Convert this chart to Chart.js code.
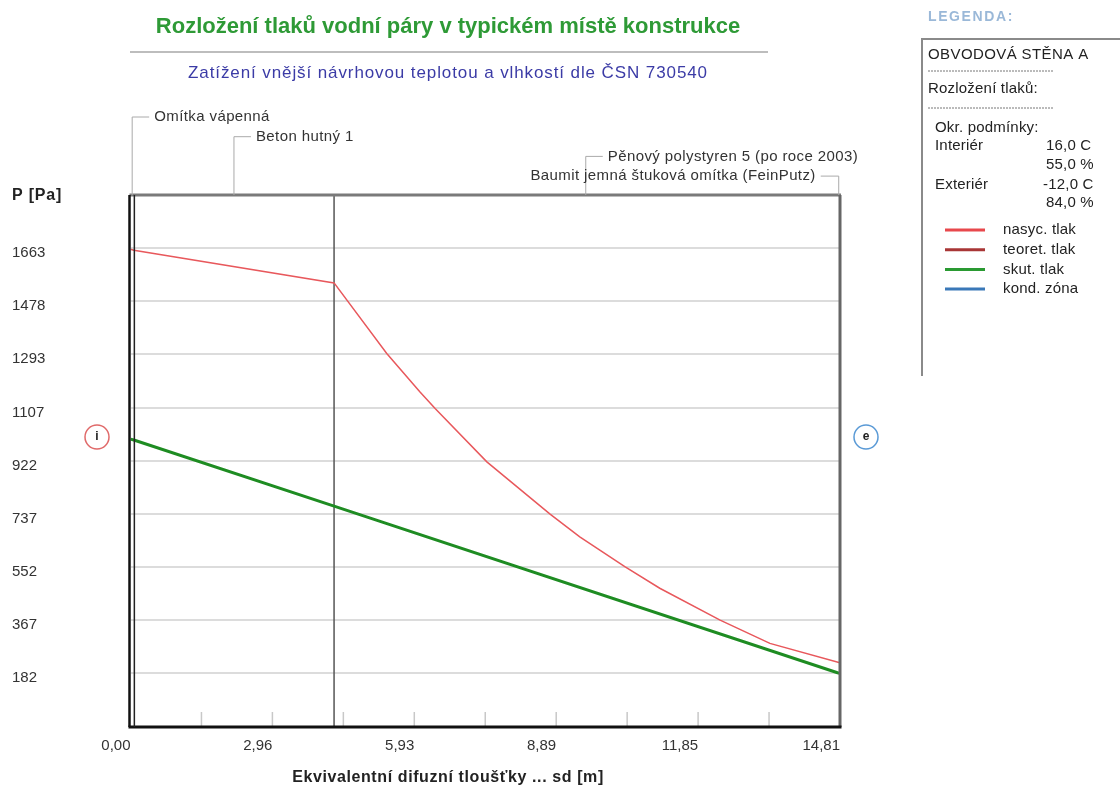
<!DOCTYPE html>
<html>
<head>
<meta charset="utf-8">
<script src="https://cdn.jsdelivr.net/npm/chart.js@4.4.1/dist/chart.umd.min.js"></script>
<style>
    html, body { margin: 0; padding: 0; background: #fff; }
    #wrap { width: 1120px; height: 787px; }
</style>
</head>
<body>
<div id="wrap"><canvas id="tlakChart" width="1120" height="787"></canvas></div>
<script>
// Rozlozeni tlaku vodni pary
const sdNasyc = [0, 0.07, 4.25, 5.35, 6.04, 6.36, 7.44, 8.76, 9.38, 10.32, 11.05, 12.31, 13.35, 14.81];
const pNasyc = [1658, 1655, 1541, 1295, 1162, 1104, 918, 736, 657, 553, 478, 367, 286, 219];
const sdSkut = [0, 0.07, 4.25, 14.76, 14.81];
const pSkut = [997, 994, 764, 184, 182];

const yTicks = [182, 367, 552, 737, 922, 1107, 1293, 1478, 1663];
const xTicks = [0, 2.9626, 5.9252, 8.8878, 11.8504, 14.813];
const xTickLabels = ['0,00', '2,96', '5,93', '8,89', '11,85', '14,81'];
const xMinorTicks = [1.4813, 2.9626, 4.4439, 5.9252, 7.4065, 8.8878, 10.3691, 11.8504, 13.3317];

const layerNames = ['Omítka vápenná', 'Beton hutný 1', 'Pěnový polystyren 5 (po roce 2003)', 'Baumit jemná štuková omítka (FeinPutz)'];
const layerEdges = [0, 0.07, 4.25, 14.76, 14.813];

const legendLabels = ['nasyc. tlak', 'teoret. tlak', 'skut. tlak', 'kond. zóna'];
const legendColors = ['#e8484c', '#a83636', '#2a9a32', '#3a78b8'];

const FONT = '"Liberation Sans", Arial, sans-serif';

function text(ctx, str, x, y, font, color, align, spacing) {
    ctx.save();
    ctx.font = font;
    ctx.fillStyle = color;
    ctx.textAlign = align || 'left';
    ctx.textBaseline = 'middle';
    ctx.letterSpacing = spacing || '0px';
    ctx.fillText(str, x, y);
    ctx.restore();
}

function line(ctx, x1, y1, x2, y2, color, width) {
    ctx.beginPath();
    ctx.strokeStyle = color;
    ctx.lineWidth = width;
    ctx.moveTo(x1, y1);
    ctx.lineTo(x2, y2);
    ctx.stroke();
}

function drawMark(ctx, x, y, color, letter) {
    ctx.beginPath();
    ctx.strokeStyle = color;
    ctx.lineWidth = 1.5;
    ctx.arc(x, y, 12, 0, Math.PI * 2);
    ctx.stroke();
    text(ctx, letter, x, y, 'bold 12px ' + FONT, '#222', 'center');
}

function drawLegendBox(ctx) {
    text(ctx, 'LEGENDA:', 928, 17, 'bold 14px ' + FONT, '#9ab8d8', 'left', '1.6px');

    // box, open to the right
    line(ctx, 922, 39, 1120, 39, '#8a8a8a', 2);
    line(ctx, 922, 38, 922, 376, '#8a8a8a', 2);

    const f = '15px ' + FONT;
    const sp = '0.2px';
    text(ctx, 'OBVODOVÁ STĚNA A', 928, 55, '15px ' + FONT, '#222', 'left', '0.4px');
    ctx.save();
    ctx.setLineDash([2, 1]);
    line(ctx, 928, 71, 1053, 71, '#777', 1);
    line(ctx, 928, 108, 1053, 108, '#777', 1);
    ctx.restore();
    text(ctx, 'Rozložení tlaků:', 928, 89, f, '#222', 'left', sp);
    text(ctx, 'Okr. podmínky:', 935, 128, f, '#222', 'left', sp);
    text(ctx, 'Interiér', 935, 146, f, '#222', 'left', sp);
    text(ctx, '16,0 C', 1046, 146, f, '#222', 'left', sp);
    text(ctx, '55,0 %', 1046, 165, f, '#222', 'left', sp);
    text(ctx, 'Exteriér', 935, 185, f, '#222', 'left', sp);
    text(ctx, '-12,0 C', 1043, 185, f, '#222', 'left', sp);
    text(ctx, '84,0 %', 1046, 203, f, '#222', 'left', sp);

    legendLabels.forEach((lbl, i) => {
        const y = 230 + i * 19.7;
        line(ctx, 945, y, 985, y, legendColors[i], 3);
        text(ctx, lbl, 1003, y, f, '#222', 'left', sp);
    });
}

const overlayPlugin = {
    id: 'overlay',
    beforeDatasetsDraw(chart) {
        const ctx = chart.ctx;
        const a = chart.chartArea;
        const x = chart.scales.x;
        // inner layer boundary (beton / polystyren)
        const pb = x.getPixelForValue(layerEdges[2]);
        line(ctx, pb, a.top, pb, a.bottom, '#555', 1.5);
        // minor ticks along the bottom
        xMinorTicks.forEach(v => {
            const px = x.getPixelForValue(v);
            line(ctx, px, a.bottom - 15, px, a.bottom, '#c8c8c8', 1.5);
        });
    },
    afterDraw(chart) {
        const ctx = chart.ctx;
        const a = chart.chartArea;
        const x = chart.scales.x;

        // frame
        line(ctx, a.left - 1, a.top, a.right + 1, a.top, '#7a7a7a', 3);
        line(ctx, a.right, a.top, a.right, a.bottom, '#666', 3);
        line(ctx, a.left - 2, a.bottom, a.right + 1.5, a.bottom, '#111', 3);
        line(ctx, a.left - 1, a.top, a.left - 1, a.bottom, '#111', 2.5);
        const p1 = x.getPixelForValue(layerEdges[1]);
        line(ctx, p1 + 0.5, a.top, p1 + 0.5, a.bottom, '#222', 1.5);

        // titles
        text(ctx, 'Rozložení tlaků vodní páry v typickém místě konstrukce', 448, 27, 'bold 22px ' + FONT, '#2e9a36', 'center');
        line(ctx, 130, 52, 768, 52, '#bdbdbd', 2);
        text(ctx, 'Zatížení vnější návrhovou teplotou a vlhkostí dle ČSN 730540', 448, 73, '17px ' + FONT, '#3b3ba6', 'center', '0.9px');

        // layer labels with brackets
        layerNames.forEach((name, i) => {
            const cx = x.getPixelForValue((layerEdges[i] + layerEdges[i + 1]) / 2);
            const ly = 117 + i * 19.7;
            const last = i === layerNames.length - 1;
            line(ctx, cx, a.top, cx, ly, '#aaa', 1);
            if (last) {
                line(ctx, cx, ly, cx - 18, ly, '#aaa', 1);
                text(ctx, name, cx - 23, ly, '15px ' + FONT, '#333', 'right', '0.4px');
            } else {
                line(ctx, cx, ly, cx + 17, ly, '#aaa', 1);
                text(ctx, name, cx + 22, ly, '15px ' + FONT, '#333', 'left', '0.4px');
            }
        });

        text(ctx, 'P [Pa]', 12, 196, 'bold 16px ' + FONT, '#222', 'left', '0.8px');
        text(ctx, 'Ekvivalentní difuzní tloušťky ... sd [m]', 448, 778, 'bold 16px ' + FONT, '#222', 'center', '0.6px');

        drawMark(ctx, 97, 437, '#e06a6a', 'i');
        drawMark(ctx, 866, 437, '#5a9ad6', 'e');

        drawLegendBox(ctx);
    }
};

const ctx = document.getElementById('tlakChart');
new Chart(ctx, {
    type: 'line',
    data: {
        datasets: [{
            label: 'nasyc. tlak',
            data: sdNasyc.map((v, i) => ({ x: v, y: pNasyc[i] })),
            borderColor: '#e8585c',
            borderWidth: 1.5,
            pointRadius: 0,
            tension: 0
        }, {
            label: 'skut. tlak',
            data: sdSkut.map((v, i) => ({ x: v, y: pSkut[i] })),
            borderColor: '#1e8c22',
            borderWidth: 3,
            pointRadius: 0,
            tension: 0
        }]
    },
    options: {
        responsive: false,
        animation: false,
        layout: { padding: { top: 195, right: 280, left: 12, bottom: 0 } },
        plugins: {
            legend: { display: false },
            title: { display: false },
            tooltip: { enabled: false }
        },
        scales: {
            x: {
                type: 'linear',
                min: 0,
                max: 14.813,
                afterBuildTicks: s => { s.ticks = xTicks.map(v => ({ value: v })); },
                afterFit: s => { s.height = 60; },
                grid: { display: false, drawTicks: false },
                border: { display: false },
                ticks: {
                    autoSkip: false,
                    maxRotation: 0,
                    align: 'end',
                    padding: 10,
                    color: '#333',
                    font: { family: FONT, size: 15 },
                    callback: (v, i) => xTickLabels[i]
                }
            },
            y: {
                min: -5,
                max: 1847,
                afterBuildTicks: s => { s.ticks = yTicks.map(v => ({ value: v })); },
                afterFit: s => { s.width = 118.5; },
                grid: { color: '#dcdcdc', lineWidth: 2, drawTicks: false },
                border: { display: false },
                ticks: {
                    autoSkip: false,
                    crossAlign: 'far',
                    labelOffset: 5,
                    color: '#333',
                    font: { family: FONT, size: 15 },
                    callback: v => String(v)
                }
            }
        }
    },
    plugins: [overlayPlugin]
});
</script>
</body>
</html>
